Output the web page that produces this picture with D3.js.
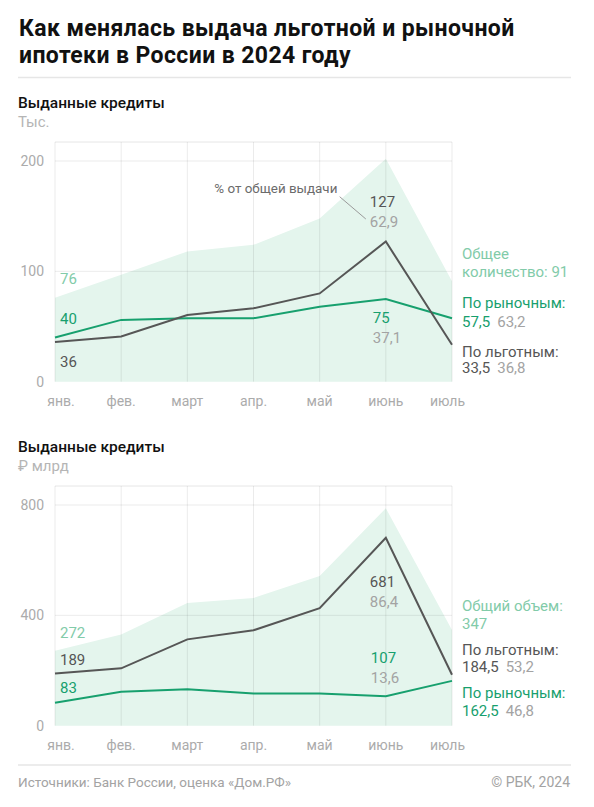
<!DOCTYPE html>
<html><head><meta charset="utf-8">
<script src="https://cdn.jsdelivr.net/npm/d3@7"></script>
<style>
body{margin:0;background:#fff}
svg{display:block}
text{font-family:Roboto, "Noto Sans", sans-serif}
</style>
</head><body>
<svg id="c" width="594" height="807"></svg>
<script>
// ---- data ----
const months = ["янв.","фев.","март","апр.","май","июнь","июль"];
const countPref   = [36, 41, 60.5, 66.5, 80, 127, 33.5];
const countMarket = [40, 56, 57.5, 57.5, 68, 75, 57.5];
const countTotal  = [76, 97, 118, 124, 148, 202, 91];
const volPref   = [189, 208, 313, 346, 426, 681, 184.5];
const volMarket = [83, 123, 132, 117, 117, 107, 162.5];
const volTotal  = [272, 331, 445, 463, 543, 788, 347];
const countTicks = [0, 100, 200];
const volTicks = [0, 400, 800];

const C = {
  green: "#17a06e", dark: "#565656", light: "#82cba9", gray: "#a3a3a3",
  area: "#e4f5ed", grid: "#e6e6e6", tick: "#ababab", black: "#111"
};

const svg = d3.select("#c");

// header
svg.append("text").attr("x", 19).attr("y", 36).attr("font-size", 23).attr("font-weight", 700)
  .attr("letter-spacing", 0.4)
  .attr("fill", C.black).text("Как менялась выдача льготной и рыночной");
svg.append("text").attr("x", 19).attr("y", 63).attr("font-size", 23).attr("font-weight", 700)
  .attr("letter-spacing", 0.4)
  .attr("fill", C.black).text("ипотеки в России в 2024 году");
svg.append("line").attr("x1", 18).attr("x2", 571).attr("y1", 77.5).attr("y2", 77.5)
  .attr("stroke", "#e6e6e6").attr("stroke-width", 1.5);

// footer
svg.append("line").attr("x1", 18).attr("x2", 571).attr("y1", 765).attr("y2", 765)
  .attr("stroke", "#e6e6e6").attr("stroke-width", 1.5);
svg.append("text").attr("x", 18).attr("y", 787).attr("font-size", 13.5).attr("fill", C.gray)
  .text("Источники: Банк России, оценка «Дом.РФ»");
svg.append("text").attr("x", 570).attr("y", 787).attr("font-size", 14).attr("fill", C.gray)
  .attr("text-anchor", "end").text("© РБК, 2024");

function panel(o) {
  const g = svg.append("g");
  const x = d3.scalePoint().domain(months).range([55, 452]);
  const y = d3.scaleLinear().domain([0, o.ticks[2]]).range([o.y0, o.y0 - 220.7]);
  const top = o.y0 - 239.7;

  g.append("text").attr("x", 18).attr("y", o.y0 - 273.5).attr("font-size", 15.5).attr("font-weight", 500)
    .attr("fill", C.black).text("Выданные кредиты");
  g.append("text").attr("x", 18).attr("y", o.y0 - 255).attr("font-size", 15)
    .attr("fill", "#b5b5b5").text(o.unit);

  // area
  const area = d3.area().x((d, i) => x(months[i])).y0(y(0)).y1(d => y(d));
  g.append("path").datum(o.total).attr("d", area).attr("fill", C.area);

  // grid
  g.append("line").attr("x1", 55).attr("x2", 452).attr("y1", top).attr("y2", top)
    .attr("stroke", C.grid);
  g.selectAll(".vg").data(months).join("line")
    .attr("x1", d => x(d)).attr("x2", d => x(d)).attr("y1", top).attr("y2", y(0))
    .attr("stroke", "rgba(0,0,0,0.08)");
  g.selectAll(".hg").data(o.ticks.slice(1)).join("line")
    .attr("x1", 55).attr("x2", 452).attr("y1", d => y(d)).attr("y2", d => y(d))
    .attr("stroke", "rgba(0,0,0,0.08)");

  // y labels
  g.selectAll(".yl").data(o.ticks).join("text")
    .attr("x", 44).attr("y", d => y(d)).attr("dy", "0.35em").attr("text-anchor", "end")
    .attr("font-size", 14).attr("fill", C.tick).text(d => d);

  // x labels
  g.selectAll(".xl").data(months).join("text")
    .attr("x", (d, i) => x(d) + (i === 0 ? 6 : i === months.length - 1 ? -4.5 : 0))
    .attr("y", y(0) + 24.3).attr("text-anchor", "middle")
    .attr("font-size", 14).attr("fill", C.tick).text(d => d);

  // lines
  const line = d3.line().x((d, i) => x(months[i])).y(d => y(d));
  g.append("path").datum(o.market).attr("d", line).attr("fill", "none")
    .attr("stroke", C.green).attr("stroke-width", 2);
  g.append("path").datum(o.pref).attr("d", line).attr("fill", "none")
    .attr("stroke", C.dark).attr("stroke-width", 2);

  o.labels.forEach(l => {
    const t = g.append("text").attr("x", x(months[l.m]) + l.dx).attr("y", l.y)
      .attr("font-size", l.fs || 15).attr("fill", l.c).text(l.t);
    if (l.t2) t.append("tspan").attr("dx", 7).attr("fill", C.gray).text(l.t2);
  });
  o.side.forEach(l => {
    const t = g.append("text").attr("x", 462).attr("y", l.y)
      .attr("font-size", 15).attr("fill", l.c).text(l.t);
    if (l.t2) t.append("tspan").attr("dx", 7).attr("fill", C.gray).text(l.t2);
  });
  return {g, x, y};
}

const p1 = panel({
  y0: 381.7, ticks: countTicks, unit: "Тыс.",
  total: countTotal, pref: countPref, market: countMarket,
  labels: [
    {m: 0, dx: 5, y: 284.3, t: String(countTotal[0]), c: C.light},
    {m: 0, dx: 5, y: 324, t: String(countMarket[0]), c: C.green},
    {m: 0, dx: 5, y: 366.7, t: String(countPref[0]), c: C.dark},
    {m: 5, dx: -16, y: 207.3, t: String(countPref[5]), c: C.dark},
    {m: 5, dx: -16, y: 227.3, t: "62,9", c: C.gray},
    {m: 5, dx: -13, y: 323.3, t: String(countMarket[5]), c: C.green},
    {m: 5, dx: -13, y: 343.3, t: "37,1", c: C.gray},
    {m: 2, dx: 27, y: 193.3, t: "% от общей выдачи", c: "#6b6b6b", fs: 13.4}
  ],
  side: [
    {y: 259, t: "Общее", c: C.light},
    {y: 276.7, t: "количество: 91", c: C.light},
    {y: 308.3, t: "По рыночным:", c: C.green},
    {y: 326.7, t: "57,5", t2: "63,2", c: C.green},
    {y: 356.7, t: "По льготным:", c: C.dark},
    {y: 373.3, t: "33,5", t2: "36,8", c: C.dark}
  ]
});
// leader line for the share annotation
p1.g.append("line").attr("x1", p1.x(months[4]) + 20).attr("y1", 196.7)
  .attr("x2", p1.x(months[5]) - 20).attr("y2", 219)
  .attr("stroke", "#9a9a9a").attr("stroke-width", 1);

panel({
  y0: 725.7, ticks: volTicks, unit: "₽ млрд",
  total: volTotal, pref: volPref, market: volMarket,
  labels: [
    {m: 0, dx: 5, y: 638.3, t: String(volTotal[0]), c: C.light},
    {m: 0, dx: 5, y: 665, t: String(volPref[0]), c: C.dark},
    {m: 0, dx: 5, y: 693.3, t: String(volMarket[0]), c: C.green},
    {m: 5, dx: -16, y: 586.7, t: String(volPref[5]), c: C.dark},
    {m: 5, dx: -16, y: 606.7, t: "86,4", c: C.gray},
    {m: 5, dx: -15, y: 662.7, t: String(volMarket[5]), c: C.green},
    {m: 5, dx: -15, y: 682.7, t: "13,6", c: C.gray}
  ],
  side: [
    {y: 611, t: "Общий объем:", c: C.light},
    {y: 629, t: "347", c: C.light},
    {y: 655, t: "По льготным:", c: C.dark},
    {y: 672.3, t: "184,5", t2: "53,2", c: C.dark},
    {y: 698.3, t: "По рыночным:", c: C.green},
    {y: 715.7, t: "162,5", t2: "46,8", c: C.green}
  ]
});
</script>
</body></html>
